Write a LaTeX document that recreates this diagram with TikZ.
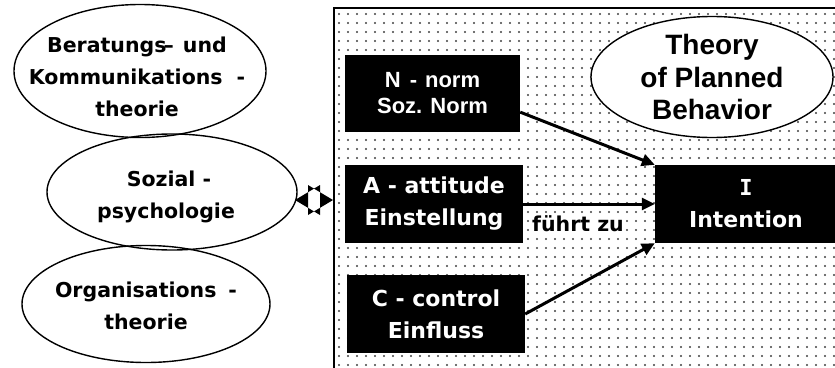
\documentclass[tikz,border=0pt]{standalone}
\usepackage{fontspec}
\usetikzlibrary{shapes.geometric,arrows.meta}
\newfontfamily\vfont{DejaVu Sans}
\newfontfamily\vmono{DejaVu Sans Mono}
\newfontfamily\afont{Liberation Sans}

\begin{document}
\begin{tikzpicture}[x=1pt,y=-1pt,
  fieldtext/.style={inner sep=0pt, align=center,
    font=\vfont\bfseries\fontsize{20.5}{32}\selectfont},
  fieldline/.style={draw=black, line width=1.4pt},
  tpb/.style={ellipse, draw=black, line width=1.4pt, fill=white, inner sep=0pt,
    align=center, font=\afont\bfseries\fontsize{28}{32.5}\selectfont},
  darkbox/.style={fill=black, text=white, inner sep=0pt, align=center},
  vtext/.style={font=\vfont\bfseries\fontsize{22}{32}\selectfont},
  atext/.style={font=\afont\bfseries\fontsize{22}{26}\selectfont},
  leads/.style={line width=3pt, -{Triangle[length=13pt,width=12pt]}},
  linkhead/.style={fill=black, even odd rule},
  frameline/.style={line width=2pt},
  dot/.style={fill=black!75}
]
\useasboundingbox (0,0) rectangle (835,367);
\clip (0,0) rectangle (835,367);

% dotted panel with its frame
\foreach \i in {0,...,55} {
  \foreach \j in {0,...,39} {
    \fill[dot] (339+\i*9, 14+\j*9) circle (1.05pt);
  }
}
\draw[frameline] (334,400) -- (334,8) -- (900,8);

% disciplines on the left: white fills first, then the outlines
\fill[white] (140,71) ellipse [x radius=126, y radius=66.5];
\fill[white] (172,192) ellipse [x radius=125, y radius=58];
\fill[white] (146,304) ellipse [x radius=124, y radius=58.5];
\draw[fieldline] (140,71) ellipse [x radius=126, y radius=66.5];
\draw[fieldline] (172,192) ellipse [x radius=125, y radius=58];
\draw[fieldline] (146,304) ellipse [x radius=124, y radius=58.5];

\node[fieldtext] (bk) at (137,77)
  {Beratungs\kern-3pt–\kern2pt\ und\\Kommunikations\hspace{14pt}-\\theorie};
\node[fieldtext] (sp) at (166,197)
  {\hspace{6pt}Sozial -\\psychologie};
\node[fieldtext] (ot) at (146,306)
  {Organisations\hspace{12pt}-\\theorie};

% link between the discipline and the model
\path[linkhead] (295,200) -- (320,185) -- (320,215) -- cycle
                (333,200) -- (308,185) -- (308,215) -- cycle;

% model
\node[tpb, minimum width=242pt, minimum height=118pt] (tpb) at (712,77)
  {Theory\\of Planned\\Behavior};
\node[darkbox, atext, minimum width=175pt, minimum height=77pt] (N) at (432.5,93.5)
  {N\hspace{9pt}-\hspace{8pt}norm\\Soz. Norm};
\node[darkbox, vtext, minimum width=178pt, minimum height=78pt] (A) at (434,204)
  {A - attitude\\Einstellung};
\node[darkbox, vtext, minimum width=178pt, minimum height=78pt] (C) at (436,314)
  {C - control\\Einfluss};
\node[darkbox, vtext, minimum width=182pt, minimum height=78pt] (I) at (746,204)
  {{\vmono\bfseries I}\\Intention};

\draw[leads] (N.-12) -- (I.north west);
\draw[leads] (A.east) -- (I.west);
\draw[leads] (C.east) -- (I.south west);

\node[fill=white, inner sep=1pt, font=\vfont\bfseries\fontsize{20.5}{24}\selectfont]
  (fz) at (578,224) {führt zu};
\end{tikzpicture}
\end{document}
